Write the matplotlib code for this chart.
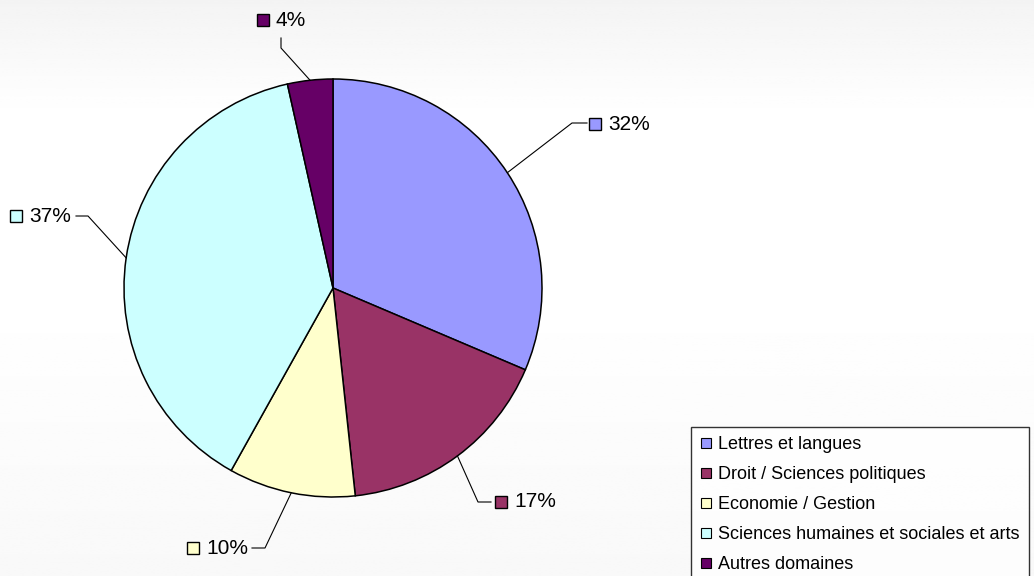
import numpy as np
import matplotlib
matplotlib.use('Agg')
import matplotlib.pyplot as plt
from matplotlib.lines import Line2D

plt.rcParams['font.family'] = ['Liberation Sans', 'DejaVu Sans']

# donnees
categories = ['Lettres et langues', 'Droit / Sciences politiques', 'Economie / Gestion',
              'Sciences humaines et sociales et arts', 'Autres domaines']
shares = [31.4, 16.9, 9.8, 38.4, 3.5]
pct_labels = ['32%', '17%', '10%', '37%', '4%']
colors = ['#9999FF', '#993366', '#FFFFCC', '#CCFFFF', '#660066']

W, H = 1034, 576
fig = plt.figure(figsize=(W / 100, H / 100), dpi=100)

# fond en degrade tres leger
bg = fig.add_axes([0, 0, 1, 1])
ys = np.linspace(0, 1, 200)
prof = np.interp(ys, [0, 0.2, 0.5, 1.0], [0.955, 1.0, 1.0, 0.975])
grad = np.repeat(prof[:, None], 2, axis=1)
bg.imshow(grad, cmap='gray', vmin=0, vmax=1, aspect='auto', extent=[0, 1, 1, 0])
bg.axis('off')

# camembert: centre (333, 288), rayon 209 px
cx, cy, r = 333, 288, 209
ax = fig.add_axes([(cx - r) / W, (H - cy - r) / H, 2 * r / W, 2 * r / H])

wedges, _ = ax.pie(shares, colors=colors, startangle=90, counterclock=False,
                   radius=1, wedgeprops=dict(edgecolor='black', linewidth=1.1))
ax.set_xlim(-1, 1)
ax.set_ylim(-1, 1)
ax.set_aspect('equal')
ax.axis('off')


def px(x, y):
    return (x - cx) / r, (cy - y) / r


# position des etiquettes (carre, coude, fin du trait) en pixels
layout = [
    dict(sq=(595, 124), elbow=(572, 123), end=(587, 123)),
    dict(sq=(501, 502), elbow=(478, 502), end=(491, 502)),
    dict(sq=(193, 548), elbow=(265, 548), end=(252, 548)),
    dict(sq=(16, 216), elbow=(88, 216), end=(76, 216)),
    dict(sq=(263, 20), elbow=(281, 48), end=(281, 38)),
]

for w, lab, col, lay in zip(wedges, pct_labels, colors, layout):
    mid = np.deg2rad((w.theta1 + w.theta2) / 2)
    ax_, ay_ = np.cos(mid), np.sin(mid)
    ex, ey = px(*lay['elbow'])
    fx, fy = px(*lay['end'])
    ax.plot([ax_, ex, fx], [ay_, ey, fy], color='black', lw=0.8, clip_on=False)
    sx, sy = px(*lay['sq'])
    ax.plot([sx], [sy], marker='s', markersize=8.5, markerfacecolor=col,
            markeredgecolor='black', markeredgewidth=1, clip_on=False)
    ax.text(sx + 13 / r, sy, lab, fontsize=15, ha='left', va='center',
            color='black', clip_on=False)

handles = [Line2D([], [], linestyle='none', marker='s', markersize=7.5,
                  markerfacecolor=c, markeredgecolor='black', markeredgewidth=0.8)
           for c in colors]
leg = fig.legend(handles, categories, loc='upper left',
                 bbox_to_anchor=(691 / W, 1 - 427 / H), fontsize=13,
                 frameon=True, fancybox=False, edgecolor='black',
                 handlelength=0.65, handletextpad=0.35, labelspacing=0.72,
                 borderpad=0.5, borderaxespad=0)
leg.get_frame().set_linewidth(1)
leg.get_frame().set_facecolor('white')

fig.savefig('out.png', dpi=100)
